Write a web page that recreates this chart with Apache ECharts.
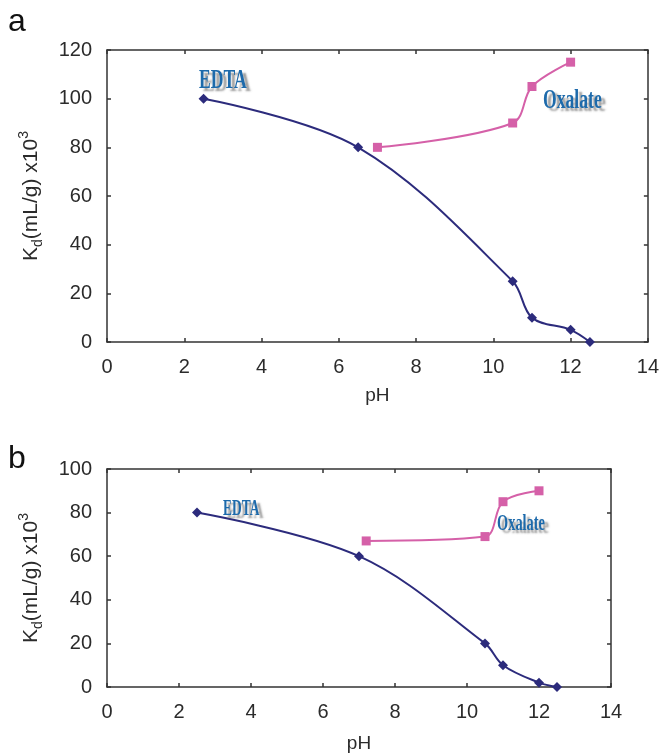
<!DOCTYPE html>
<html>
<head>
<meta charset="utf-8">
<script src="https://cdn.jsdelivr.net/npm/echarts@6/dist/echarts.min.js"></script>
<style>html,body{margin:0;padding:0;background:#fff;}#c{width:662px;height:755px;}</style>
</head>
<body>
<div id="c"></div>
<script>
// Panel a
const pH_a_edta = [2.5, 6.5, 10.5, 11, 12, 12.5];
const kd_a_edta = [100, 80, 25, 10, 5, 0];
const pH_a_ox = [7, 10.5, 11, 12];
const kd_a_ox = [80, 90, 105, 115];
// Panel b
const pH_b_edta = [2.5, 7, 10.5, 11, 12, 12.5];
const kd_b_edta = [80, 60, 20, 10, 2, 0];
const pH_b_ox = [7.2, 10.5, 11, 12];
const kd_b_ox = [67, 69, 85, 90];
// Axes
const xRange = [0, 14, 2];
const yRange_a = [0, 120, 20];
const yRange_b = [0, 100, 20];
const xTitle = 'pH';
const panelLabels = ['a', 'b'];
const seriesNames = ['EDTA', 'Oxalate'];

const NAVY = '#2C2B7C';
const PINK = '#D560A8';
const AX = '#333333';
const TXT = '#2b2b2b';
const FONT = '"Liberation Sans", Arial, sans-serif';

function zip(xs, ys) { return xs.map((x, i) => [x, ys[i]]); }

function xAxisMain(grid, gap) {
  return {
    type: 'value', gridIndex: grid, position: 'bottom',
    min: xRange[0], max: xRange[1], interval: xRange[2],
    name: xTitle, nameLocation: 'middle', nameGap: gap,
    nameTextStyle: { fontSize: 19, color: TXT, fontFamily: FONT },
    axisLine: { show: true, onZero: false, lineStyle: { color: AX, width: 1.5 } },
    axisTick: { show: true, inside: true, length: 4, lineStyle: { color: AX, width: 1.5 } },
    axisLabel: { fontSize: 20, color: TXT, fontFamily: FONT, margin: 15 },
    splitLine: { show: false }
  };
}
function xAxisTop(grid) {
  return {
    type: 'value', gridIndex: grid, position: 'top',
    min: xRange[0], max: xRange[1], interval: xRange[2],
    axisLine: { show: true, onZero: false, lineStyle: { color: AX, width: 1.5 } },
    axisTick: { show: true, inside: true, length: 4, lineStyle: { color: AX, width: 1.5 } },
    axisLabel: { show: false }, splitLine: { show: false }
  };
}
function yAxisMain(grid, r) {
  return {
    type: 'value', gridIndex: grid, position: 'left',
    min: r[0], max: r[1], interval: r[2],
    name: '{k|K}{d|d}{k|(mL/g) x10}{s|3}',
    nameLocation: 'middle', nameGap: 62, nameRotate: 90,
    nameTextStyle: {
      color: TXT, fontFamily: FONT,
      rich: {
        k: { fontSize: 21, color: TXT, fontFamily: FONT, lineHeight: 28, verticalAlign: 'middle' },
        d: { fontSize: 14, color: TXT, fontFamily: FONT, lineHeight: 28, verticalAlign: 'bottom' },
        s: { fontSize: 14, color: TXT, fontFamily: FONT, lineHeight: 28, verticalAlign: 'top' }
      }
    },
    axisLine: { show: true, onZero: false, lineStyle: { color: AX, width: 1.5 } },
    axisTick: { show: true, inside: true, length: 4, lineStyle: { color: AX, width: 1.5 } },
    axisLabel: { fontSize: 20, color: TXT, fontFamily: FONT, margin: 15 },
    splitLine: { show: false }
  };
}
function yAxisRight(grid, r) {
  return {
    type: 'value', gridIndex: grid, position: 'right',
    min: r[0], max: r[1], interval: r[2],
    axisLine: { show: true, onZero: false, lineStyle: { color: AX, width: 1.5 } },
    axisTick: { show: true, inside: true, length: 4, lineStyle: { color: AX, width: 1.5 } },
    axisLabel: { show: false }, splitLine: { show: false }
  };
}
function line(name, xi, yi, data, color, symbol, size) {
  return {
    name: name, type: 'line', xAxisIndex: xi, yAxisIndex: yi,
    data: data, smooth: 0.35, symbol: symbol, symbolSize: size,
    showAllSymbol: true, clip: false,
    lineStyle: { color: color, width: 2 },
    itemStyle: { color: color },
    z: 3
  };
}
function tag(text, x, y, size, sx) {
  return {
    type: 'text', x: x, y: y, scaleX: sx, scaleY: 1, z: 10,
    style: {
      text: text, fill: '#1D6AAB',
      font: 'bold ' + size + 'px "Liberation Serif", "Times New Roman", serif',
      verticalAlign: 'middle', align: 'left',
      textShadowColor: 'rgba(110,110,110,0.7)', textShadowOffsetX: 4, textShadowOffsetY: 3, textShadowBlur: 2
    }
  };
}
function plabel(text, x, y) {
  return { type: 'text', x: x, y: y, z: 10,
    style: { text: text, fill: '#111', font: '32px "Liberation Sans", Arial, sans-serif', verticalAlign: 'middle', align: 'left' } };
}

const chart = echarts.init(document.getElementById('c'), null, { renderer: 'canvas' });
chart.setOption({
  backgroundColor: '#fff',
  animation: false,
  grid: [
    { left: 107, top: 50, width: 542, height: 292 },
    { left: 107, top: 469, width: 504, height: 218 }
  ],
  xAxis: [xAxisMain(0, 44), xAxisTop(0), xAxisMain(1, 47), xAxisTop(1)],
  yAxis: [yAxisMain(0, yRange_a), yAxisRight(0, yRange_a), yAxisMain(1, yRange_b), yAxisRight(1, yRange_b)],
  series: [
    line(seriesNames[0], 0, 0, zip(pH_a_edta, kd_a_edta), NAVY, 'diamond', 10),
    line(seriesNames[1], 0, 0, zip(pH_a_ox, kd_a_ox), PINK, 'rect', 9),
    line(seriesNames[0], 2, 2, zip(pH_b_edta, kd_b_edta), NAVY, 'diamond', 10),
    line(seriesNames[1], 2, 2, zip(pH_b_ox, kd_b_ox), PINK, 'rect', 9)
  ],
  graphic: [
    plabel(panelLabels[0], 8, 22),
    plabel(panelLabels[1], 8, 459),
    tag(seriesNames[0], 199, 81, 28, 0.63),
    tag(seriesNames[1], 543, 101, 28, 0.63),
    tag(seriesNames[0], 223, 509, 24, 0.56),
    tag(seriesNames[1], 497, 524, 24, 0.6)
  ]
});
</script>
</body>
</html>
